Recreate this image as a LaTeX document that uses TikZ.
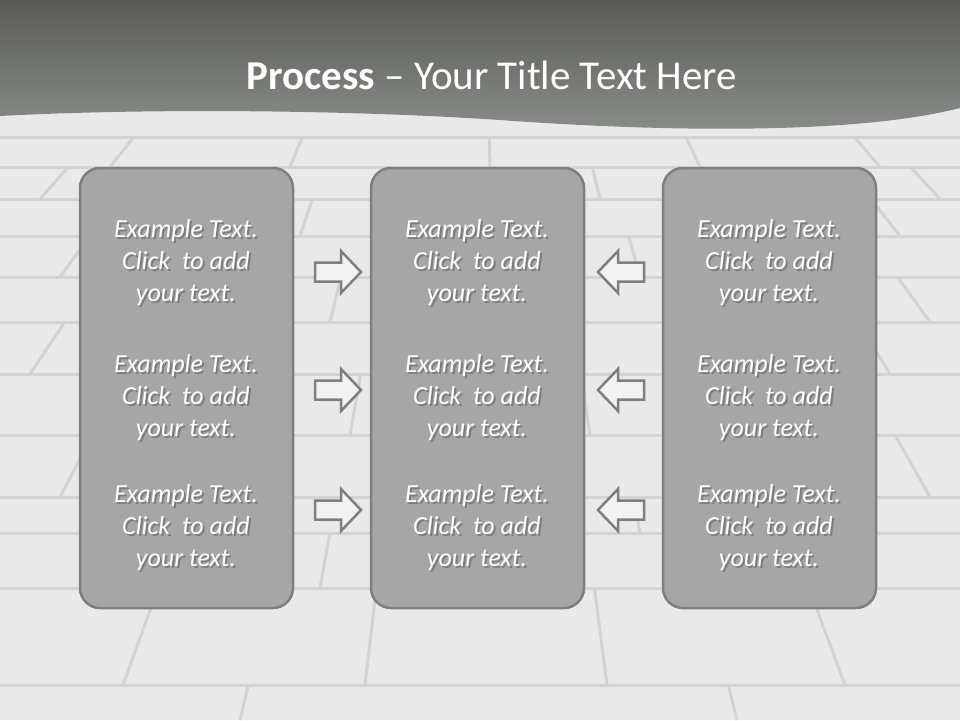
\documentclass[tikz,border=0pt]{standalone}
\usepackage{fontspec}
\setmainfont{Carlito}
\usetikzlibrary{calc}
\definecolor{floorbg}{HTML}{E9E9E9}
\definecolor{grout}{HTML}{D3D3D3}
\definecolor{bandtop}{HTML}{5A5B59}
\definecolor{bandbot}{HTML}{8C8E8B}
\definecolor{boxfill}{HTML}{A6A6A6}
\definecolor{boxline}{HTML}{7F7F7F}
\definecolor{arrowfill}{HTML}{F2F2F2}
\tikzset{
  groutline/.style={draw=grout, line width=3pt},
  bigbox/.style={draw=boxline, line width=2.5pt, fill=boxfill, rounded corners=20pt,
    minimum width=213pt, minimum height=440pt, inner sep=0pt},
  txt/.style={text=white, align=center, inner sep=0pt,
    font=\itshape\fontsize{26}{32}\selectfont},
  txtshadow/.style={txt, text=black!75, opacity=0.4},
  blockarrow/.style={draw=boxline, line width=2.5pt, fill=arrowfill, line join=miter},
  titletext/.style={text=white, inner sep=0pt, font=\fontsize{41}{48}\selectfont}
}
\newcommand{\vseg}[3]{\draw[groutline] ($(480,-300)!{(#2+300)/(#3+300)}!(#1,#3)$) -- (#1,#3);}
\newcommand{\myarrow}[3]{\draw[blockarrow,shift={(#1,#2)},xscale=#3]
  (-23,-9.5) -- (3,-9.5) -- (3,-21) -- (23,0) -- (3,21) -- (3,9.5) -- (-23,9.5) -- cycle;}
\begin{document}
\begin{tikzpicture}[x=1pt,y=-1pt]
\useasboundingbox (0,0) rectangle (960,720);
% floor
\fill[floorbg] (0,0) rectangle (960,720);
\foreach \yy in {137,167,199,236,277,322,374,435,497,533,588,685}
  {\draw[groutline] (0,\yy) -- (960,\yy);}
\foreach \xx in {110,290,490,700,880} {\vseg{\xx}{137}{167}}
\foreach \xx in {40,200,380,600,800,940} {\vseg{\xx}{167}{199}}
\foreach \xx in {120,300,510,720,900} {\vseg{\xx}{199}{236}}
\foreach \xx in {60,230,420,640,840} {\vseg{\xx}{236}{277}}
\foreach \xx in {140,330,560,760,930} {\vseg{\xx}{277}{322}}
\foreach \xx in {30,240,460,680,890} {\vseg{\xx}{322}{374}}
\foreach \xx in {150,350,590,820} {\vseg{\xx}{374}{435}}
\foreach \xx in {60,270,500,730,930} {\vseg{\xx}{435}{497}}
\foreach \xx in {180,400,640,860} {\vseg{\xx}{497}{533}}
\foreach \xx in {80,320,560,800} {\vseg{\xx}{533}{588}}
\foreach \xx in {123,365,607,845} {\vseg{\xx}{588}{685}}
\foreach \xx in {240,737} {\vseg{\xx}{685}{720}}
% title band
\shade[top color=bandtop, bottom color=bandbot]
  (0,0) -- (960,0) -- (960,108)
  .. controls (850,136) and (650,131) .. (500,120)
  .. controls (350,110) and (150,108) .. (0,116) -- cycle;
\node[titletext] (title) at (492,75) {\textbf{Process} – Your Title Text Here};
% boxes
\node[bigbox] (L) at (186.5,388) {};
\node[bigbox] (M) at (477.5,388) {};
\node[bigbox] (R) at (769.5,388) {};
% texts
\foreach \cx/\c in {186/l,477/m,769/r}
  \foreach \cy/\r in {263/1,398/2,528/3}
  {
    \node[txtshadow] (\c\r s) at (\cx+2,\cy+2) {Example Text.\\Click\ \ to add\\your text.};
    \node[txt] (\c\r) at (\cx,\cy) {Example Text.\\Click\ \ to add\\your text.};
  }
% arrows
\foreach \ay in {272,390,510}
{
  \myarrow{338}{\ay}{1}
  \myarrow{621}{\ay}{-1}
}
\end{tikzpicture}
\end{document}
